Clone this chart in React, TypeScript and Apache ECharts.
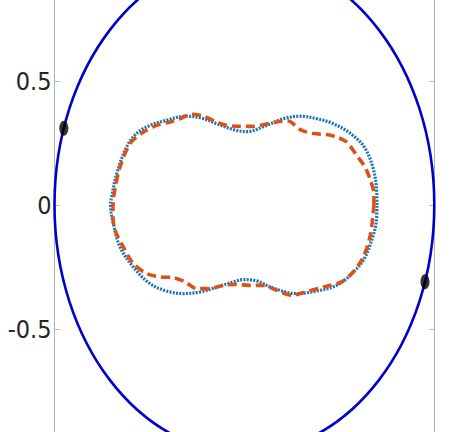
import React, { useEffect, useRef } from "react";
import * as echarts from "echarts";

// Axis range and ticks (data units)
const xRange = [-1, 1];
const yRange = [-1, 1];
const yTickStep = 0.5;

// Unit circle (center x, center y, radius)
const circleData = [[0, 0, 1]];

// Black markers on the circle
const markerPoints = [
  [-0.951, 0.309],
  [0.951, -0.309],
];

// Dotted blue closed curve
const dottedCurve = [
  [0.698, 0.0], [0.697, 0.046], [0.678, 0.148], [0.63, 0.235], [0.556, 0.29],
  [0.468, 0.328], [0.381, 0.348], [0.293, 0.358], [0.205, 0.348], [0.117, 0.321],
  [0.012, 0.296], [-0.058, 0.304], [-0.146, 0.328], [-0.234, 0.352], [-0.313, 0.358],
  [-0.409, 0.342], [-0.497, 0.321], [-0.567, 0.289], [-0.62, 0.234], [-0.672, 0.128],
  [-0.699, 0.032], [-0.705, 0.0], [-0.69, -0.075], [-0.655, -0.169], [-0.585, -0.25],
  [-0.497, -0.317], [-0.409, -0.347], [-0.322, -0.357], [-0.234, -0.351], [-0.146, -0.331],
  [-0.058, -0.31], [-0.006, -0.301], [0.065, -0.306], [0.15, -0.335], [0.275, -0.357],
  [0.381, -0.347], [0.486, -0.324], [0.556, -0.284], [0.626, -0.223], [0.67, -0.142],
  [0.693, -0.075], [0.698, 0.0],
];

// Dashed orange closed curve
const dashedCurve = [
  [0.682, 0.0], [0.682, 0.046], [0.661, 0.106], [0.635, 0.153], [0.591, 0.2],
  [0.539, 0.254], [0.486, 0.274], [0.433, 0.284], [0.363, 0.288], [0.293, 0.304],
  [0.231, 0.339], [0.17, 0.335], [0.1, 0.324], [0.047, 0.317], [-0.023, 0.317],
  [-0.093, 0.321], [-0.146, 0.335], [-0.216, 0.358], [-0.278, 0.366], [-0.339, 0.348],
  [-0.392, 0.335], [-0.462, 0.321], [-0.532, 0.294], [-0.602, 0.248], [-0.655, 0.153],
  [-0.681, 0.066], [-0.692, 0.0], [-0.692, -0.05], [-0.681, -0.102], [-0.638, -0.169],
  [-0.585, -0.236], [-0.514, -0.277], [-0.444, -0.29], [-0.374, -0.293], [-0.313, -0.31],
  [-0.251, -0.337], [-0.181, -0.337], [-0.111, -0.324], [-0.041, -0.32], [0.029, -0.324],
  [0.1, -0.324], [0.17, -0.344], [0.249, -0.364], [0.319, -0.351], [0.389, -0.337],
  [0.451, -0.324], [0.512, -0.31], [0.573, -0.27], [0.626, -0.21], [0.661, -0.129],
  [0.677, -0.042], [0.682, 0.0],
];

const AXIS_GRAY = "#b3b3b3";
const LABEL_FONT = "'DejaVu Sans Condensed', 'Liberation Sans Narrow', 'DejaVu Sans', sans-serif";

export default function App() {
  const ref = useRef<HTMLDivElement>(null);

  useEffect(() => {
    if (!ref.current) return;
    const chart = echarts.init(ref.current, undefined, { renderer: "svg" });

    const yAxisCommon = {
      type: "value" as const,
      min: yRange[0],
      max: yRange[1],
      interval: yTickStep,
      splitLine: { show: false },
      axisLine: { show: true, onZero: false, lineStyle: { color: AXIS_GRAY, width: 1 } },
      axisTick: { show: true, inside: true, length: 5, lineStyle: { color: AXIS_GRAY } },
    };

    chart.setOption({
      animation: false,
      backgroundColor: "#ffffff",
      grid: { left: 54.5, right: 36.7, top: 0, height: 496 },
      xAxis: {
        type: "value",
        min: xRange[0],
        max: xRange[1],
        show: false,
      },
      yAxis: [
        {
          ...yAxisCommon,
          position: "left",
          axisLabel: {
            show: true,
            margin: 3,
            fontSize: 25,
            fontFamily: LABEL_FONT,
            color: "#262626",
            showMinLabel: false,
            showMaxLabel: false,
            formatter: (v: number) => String(v),
          },
        },
        {
          ...yAxisCommon,
          position: "right",
          axisLabel: { show: false },
        },
      ],
      series: [
        {
          type: "custom",
          name: "circle",
          data: circleData,
          clip: false,
          renderItem: (_params: any, api: any) => {
            const c = api.coord([api.value(0), api.value(1)]);
            const s = api.size([api.value(2), api.value(2)]);
            return {
              type: "ellipse",
              shape: { cx: c[0], cy: c[1], rx: s[0], ry: s[1] },
              style: { fill: "none", stroke: "#0000cd", lineWidth: 2.6 },
            };
          },
          z: 2,
        },
        {
          type: "line",
          name: "dotted",
          data: dottedCurve,
          showSymbol: false,
          smooth: 0.35,
          lineStyle: { color: "#1a74bb", width: 3.2, type: [2, 1.3], cap: "butt" },
          z: 3,
        },
        {
          type: "line",
          name: "dashed",
          data: dashedCurve,
          showSymbol: false,
          smooth: 0.3,
          lineStyle: { color: "#d95319", width: 3.6, type: [9, 5], cap: "butt" },
          z: 4,
        },
        {
          type: "scatter",
          name: "markers",
          data: markerPoints,
          symbol: "circle",
          symbolSize: [9, 15],
          itemStyle: { color: "#000000" },
          z: 5,
        },
      ],
    });

    return () => chart.dispose();
  }, []);

  return (
    <div
      style={{
        position: "fixed",
        left: 0,
        top: 0,
        width: 471,
        height: 432,
        overflow: "hidden",
        background: "#ffffff",
      }}
    >
      <div
        ref={ref}
        style={{ position: "absolute", left: 0, top: -43, width: 471, height: 520 }}
      />
    </div>
  );
}
